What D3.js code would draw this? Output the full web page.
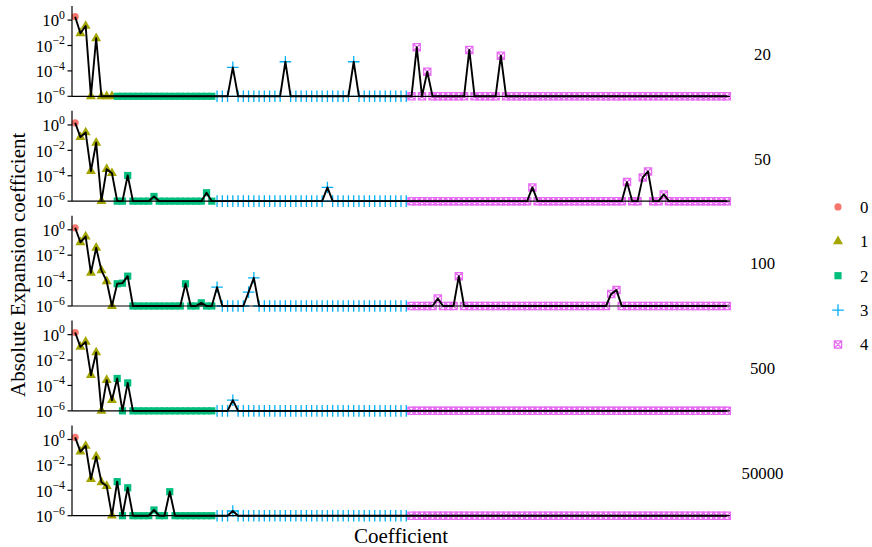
<!DOCTYPE html>
<html><head><meta charset="utf-8">
<script src="https://cdn.jsdelivr.net/npm/d3@7"></script>
<style>
body{margin:0;background:#fff}
svg{display:block}
text{font-family:"Liberation Serif","DejaVu Serif",serif;fill:#000}
</style>
</head><body>
<svg id="chart" width="872" height="547"></svg>
<script>
// ---------- data ----------
const panels = ["20", "50", "100", "500", "50000"];
const groups = ["0", "1", "2", "3", "4"];
const groupSizes = [1, 7, 19, 37, 61];           // coefficients per group, in order
const groupColors = ["#F8766D", "#A3A500", "#00BF7D", "#00B0F6", "#E76BF3"];
const floorValue = 1e-6;
const yTickExponents = [0, -2, -4, -6];
// non-floor coefficients: [coefficient index, log10 |coefficient|]
const coef20 = [[0,0.27],[1,-1.04],[2,-0.46],[4,-1.43],[30,-3.72],[40,-3.28],[53,-3.28],
  [65,-2.14],[67,-4.06],[75,-2.35],[81,-2.8]];
const coef50 = [[0,0.17],[1,-0.96],[2,-0.59],[3,-3.64],[4,-1.4],[6,-3.48],[7,-3.8],[10,-3.98],
  [15,-5.63],[25,-5.34],[48,-4.92],[87,-4.92],[105,-4.5],[108,-4.13],[109,-3.66],[112,-5.47]];
const coef100 = [[0,0.16],[1,-0.98],[2,-0.53],[3,-3.39],[4,-1.42],[5,-3.2],[6,-4.05],[8,-4.25],
  [9,-4.2],[10,-3.65],[21,-4.25],[24,-5.75],[27,-4.52],[33,-4.91],[34,-3.78],[69,-5.41],
  [73,-3.65],[102,-5.05],[103,-4.75]];
const coef500 = [[0,0.17],[1,-0.96],[2,-0.57],[3,-3.19],[4,-1.4],[6,-3.58],[7,-5.16],[8,-3.45],
  [10,-3.8],[30,-5.16]];
const coef50000 = [[0,0.17],[1,-0.96],[2,-0.51],[3,-3.11],[4,-1.35],[5,-3.37],[6,-3.66],[8,-3.32],
  [10,-3.8],[15,-5.55],[18,-4.11],[30,-5.63]];
const panelCoefs = [coef20, coef50, coef100, coef500, coef50000];

// ---------- build table ----------
const groupOf = [];
groupSizes.forEach((n, g) => { for (let k = 0; k < n; k++) groupOf.push(g); });
const nCoef = groupOf.length;
const indices = d3.range(nCoef);
const panelData = panelCoefs.map(list => {
  const vals = indices.map(() => floorValue);
  list.forEach(([i, e]) => { vals[i] = Math.pow(10, e); });
  return indices.map(i => ({i, g: groupOf[i], v: vals[i]}));
});

// ---------- layout ----------
const svg = d3.select("#chart");
const left = 72, right = 730;
const panelH = 90.3, panelStep = 104.85, firstTop = 6;
const x = d3.scalePoint().domain(indices).range([left, right]).padding(0.6);

function drawMarker(sel, g, scale) {
  const s = scale || 1;
  if (g === 0) {
    sel.append("circle").attr("r", 3.6 * s).attr("fill", groupColors[0]);
  } else if (g === 1) {
    const a = 5 * s;
    sel.append("path").attr("d", `M0,${-5.8*s}L${a},${2.9*s}L${-a},${2.9*s}Z`).attr("fill", groupColors[1]);
  } else if (g === 2) {
    const h = 3.6 * s;
    sel.append("rect").attr("x", -h).attr("y", -h).attr("width", 2*h).attr("height", 2*h).attr("fill", groupColors[2]);
  } else if (g === 3) {
    const h = 5.8 * s;
    sel.append("path").attr("d", `M${-h},0H${h}M0,${-h}V${h}`).attr("stroke", groupColors[3])
      .attr("stroke-width", 1.3).attr("fill", "none");
  } else {
    const h = 3.6 * s;
    sel.append("path").attr("d", `M${-h},${-h}H${h}V${h}H${-h}ZM${-h},${-h}L${h},${h}M${h},${-h}L${-h},${h}`)
      .attr("stroke", groupColors[4]).attr("stroke-width", 1.3).attr("fill", "none");
  }
}

panels.forEach((name, p) => {
  const top = firstTop + p * panelStep;
  const bottom = top + panelH;
  const y = d3.scaleLog().domain([floorValue, Math.pow(10, 1.11)]).range([bottom, top]);
  const g = svg.append("g");
  const data = panelData[p];

  // markers
  data.forEach(d => {
    const m = g.append("g").attr("transform", `translate(${x(d.i)},${y(d.v)})`);
    drawMarker(m, d.g);
  });

  // line
  const line = d3.line().x(d => x(d.i)).y(d => y(d.v));
  g.append("path").datum(data).attr("d", line).attr("fill", "none")
    .attr("stroke", "#000").attr("stroke-width", 1.9).attr("stroke-linejoin", "round");

  // axes lines
  g.append("line").attr("x1", left).attr("x2", left).attr("y1", top).attr("y2", bottom)
    .attr("stroke", "#000").attr("stroke-width", 1.2);
  g.append("line").attr("x1", left).attr("x2", right).attr("y1", bottom).attr("y2", bottom)
    .attr("stroke", "#000").attr("stroke-width", 1.2);

  // y ticks
  yTickExponents.forEach(e => {
    const ty = y(Math.pow(10, e));
    g.append("line").attr("x1", left - 4.5).attr("x2", left).attr("y1", ty).attr("y2", ty)
      .attr("stroke", "#000").attr("stroke-width", 1.2);
    const t = g.append("text").attr("x", 65).attr("y", ty + 6.3).attr("text-anchor", "end")
      .style("font-size", "16.8px");
    t.append("tspan").text("10");
    t.append("tspan").attr("dy", -7.5).style("font-size", "11.8px")
      .text(e === 0 ? "0" : "\u2212" + Math.abs(e));
  });

  // strip label
  svg.append("text").attr("x", 762.5).attr("y", (top + bottom) / 2 + 8.5)
    .attr("text-anchor", "middle").style("font-size", "16.8px").text(name);
});

// axis titles
svg.append("text").attr("x", (left + right) / 2).attr("y", 543).attr("text-anchor", "middle")
  .style("font-size", "21px").text("Coefficient");
svg.append("text").attr("transform", `translate(25,${(firstTop + 4 * panelStep + panelH + firstTop) / 2 + 4}) rotate(-90)`)
  .attr("text-anchor", "middle").style("font-size", "21px").text("Absolute Expansion coefficient");

// legend
groups.forEach((lab, k) => {
  const cy = 206.9 + k * 34.4;
  const m = svg.append("g").attr("transform", `translate(838,${cy})`);
  drawMarker(m, k, 1.0);
  svg.append("text").attr("x", 860).attr("y", cy + 5.8).style("font-size", "16.8px").text(lab);
});
</script>
</body></html>
